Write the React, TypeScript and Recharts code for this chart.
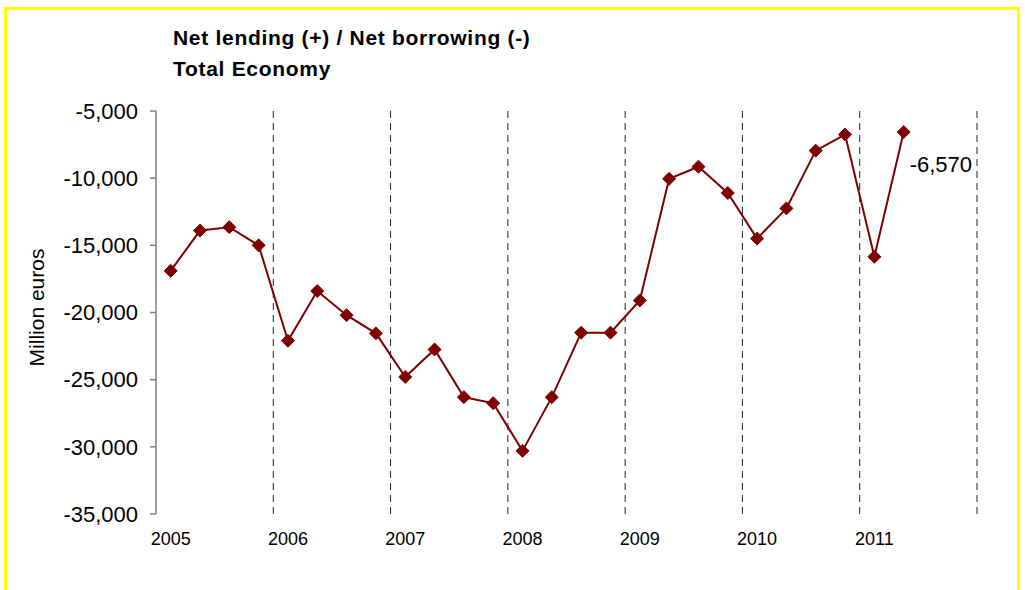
import React from 'react';
import { LineChart, Line, XAxis, YAxis, ReferenceLine, Label } from 'recharts';

// quarterly net lending / borrowing, million euros
const years = ['2005', '2006', '2007', '2008', '2009', '2010', '2011'];
const quarters = ['Q1', 'Q2', 'Q3', 'Q4'];
const netLending = [
  -16900, -13900, -13650, -15000,
  -22100, -18400, -20200, -21550,
  -24800, -22750, -26300, -26750,
  -30300, -26300, -21500, -21500,
  -19100, -10050, -9150, -11100,
  -14500, -12250, -7950, -6750,
  -15850, -6570,
];
const yTicks = [-35000, -30000, -25000, -20000, -15000, -10000, -5000];

const FONT = '"Liberation Sans", Arial, sans-serif';
const RED = '#800000';

const periods = years.flatMap((y) => quarters.map((q) => `${y} ${q}`));
const data = netLending.map((value, i) => ({ period: periods[i], pos: i + 0.5, value }));
const slotCount = periods.length;
const yearLabelTicks = years.map((_, i) => i * 4 + 0.5);
const yearBoundaries = years.map((_, i) => (i + 1) * 4);
const fmt = (v: number) => v.toLocaleString('en-US');

const Diamond = (props: any) => {
  const { cx, cy } = props;
  if (cx == null || cy == null) return null;
  const r = 6.5;
  return (
    <polygon
      points={`${cx},${cy - r} ${cx + r},${cy} ${cx},${cy + r} ${cx - r},${cy}`}
      fill={RED}
      stroke={RED}
      strokeWidth={1}
    />
  );
};

const LastValueLabel = (props: any) => {
  const { x, y, index, value } = props;
  if (index !== data.length - 1) return null;
  return (
    <text x={x + 6} y={y + 40} fontSize={22} fontFamily={FONT} fill="#000">
      {fmt(value)}
    </text>
  );
};

export default function App() {
  return (
    <div
      style={{
        position: 'fixed',
        left: 0,
        top: 0,
        width: 1025,
        height: 590,
        overflow: 'hidden',
        background: '#fff',
        fontFamily: FONT,
      }}
    >
      <div
        style={{
          position: 'absolute',
          left: 4,
          top: 7,
          width: 1010,
          height: 600,
          border: '3px solid #FFFF00',
        }}
      />
      <div
        style={{
          position: 'absolute',
          left: 173,
          top: 22,
          fontSize: 21,
          fontWeight: 'bold',
          lineHeight: '31px',
          letterSpacing: 0.7,
          color: '#000',
        }}
      >
        <div>Net lending (+) / Net borrowing (-)</div>
        <div>Total Economy</div>
      </div>
      <div style={{ position: 'absolute', left: 0, top: 0 }}>
        <LineChart
          width={1025}
          height={590}
          data={data}
          margin={{ top: 111, right: 48, bottom: 46, left: 0 }}
        >
          <XAxis
            xAxisId="q"
            dataKey="pos"
            type="number"
            domain={[0, slotCount]}
            allowDataOverflow
            ticks={yearLabelTicks}
            interval={0}
            tickFormatter={(v: number) => years[Math.floor(v / 4)]}
            axisLine={false}
            tickLine={false}
            tickSize={0}
            tickMargin={18}
            height={30}
            tick={{ fontSize: 18, fontFamily: FONT, fill: '#000' }}
          />
          <XAxis
            xAxisId="top"
            dataKey="pos"
            type="number"
            orientation="top"
            domain={[0, slotCount]}
            allowDataOverflow
            ticks={[0, ...yearBoundaries]}
            interval={0}
            height={0}
            mirror
            tick={false}
            tickSize={7}
            tickLine={{ stroke: '#000' }}
            axisLine={{ stroke: '#808080', strokeWidth: 1.5 }}
          />
          <YAxis
            type="number"
            domain={[-35000, -5000]}
            ticks={yTicks}
            interval={0}
            tickFormatter={fmt}
            width={156}
            tickSize={6}
            tickMargin={12}
            axisLine={{ stroke: '#808080', strokeWidth: 1.5 }}
            tickLine={{ stroke: '#808080', strokeWidth: 1.5 }}
            tick={{ fontSize: 22, fontFamily: FONT, fill: '#000' }}
          >
            <Label
              content={(p: any) => {
                const vb = p.viewBox || {};
                const cy = vb.y + vb.height / 2 - 5;
                return (
                  <text
                    x={36}
                    y={cy}
                    transform={`rotate(-90, 36, ${cy})`}
                    textAnchor="middle"
                    dominantBaseline="central"
                    fontSize={21}
                    fontFamily={FONT}
                    fill="#000"
                  >
                    Million euros
                  </text>
                );
              }}
            />
          </YAxis>
          {yearBoundaries.map((b) => (
            <ReferenceLine
              key={b}
              xAxisId="q"
              x={b}
              stroke="#222"
              strokeWidth={1}
              strokeDasharray="7 5"
              ifOverflow="extendDomain"
            />
          ))}
          <Line
            xAxisId="q"
            type="linear"
            dataKey="value"
            stroke={RED}
            strokeWidth={2}
            dot={<Diamond />}
            activeDot={false}
            label={<LastValueLabel />}
            isAnimationActive={false}
          />
        </LineChart>
      </div>
    </div>
  );
}
